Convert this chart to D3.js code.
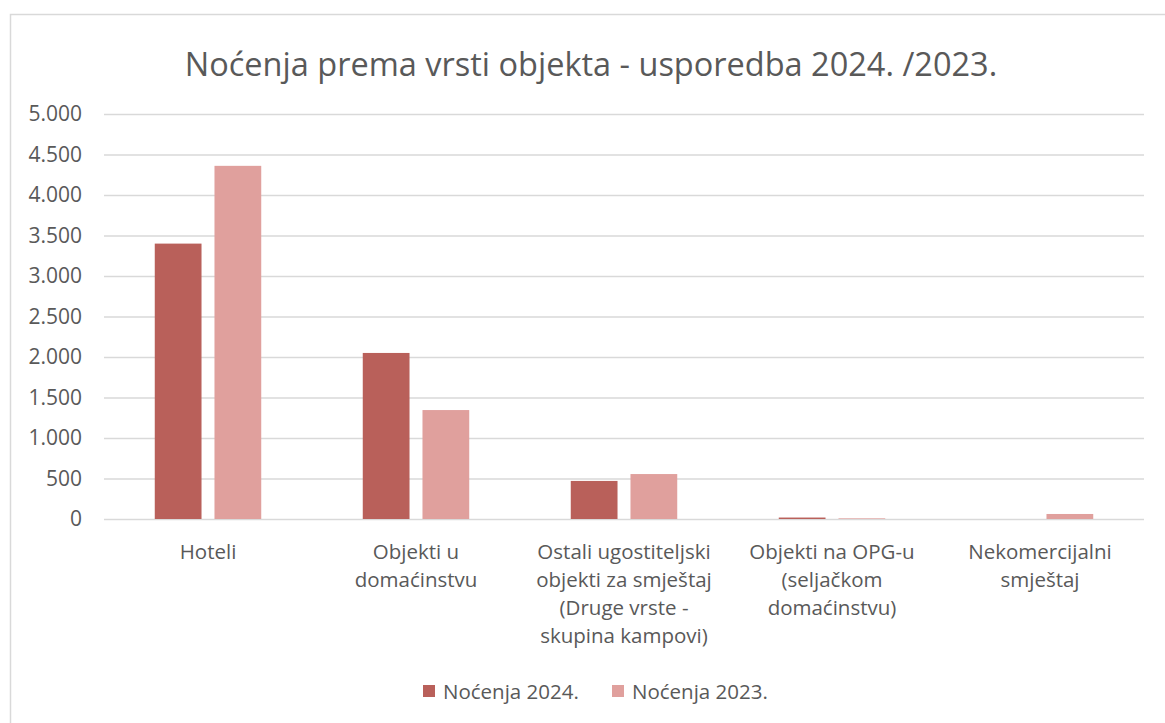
<!DOCTYPE html>
<html>
<head>
<meta charset="utf-8">
<script src="https://d3js.org/d3.v7.min.js"></script>
<style>
	body {
		margin: 0;
		background-color: #fff;
		font-family: "Open Sans", sans-serif;
	}
</style>
</head>
<body>
<div id="chart"></div>
<script>
	// data
	var categories = ["Hoteli", "Objekti u domaćinstvu", "Ostali ugostiteljski objekti za smještaj (Druge vrste - skupina kampovi)", "Objekti na OPG-u (seljačkom domaćinstvu)", "Nekomercijalni smještaj"];
	var categoryLines = [
		["Hoteli"],
		["Objekti u", "domaćinstvu"],
		["Ostali ugostiteljski", "objekti za smještaj", "(Druge vrste -", "skupina kampovi)"],
		["Objekti na OPG-u", "(seljačkom", "domaćinstvu)"],
		["Nekomercijalni", "smještaj"]
	];
	var series = ["Noćenja 2024.", "Noćenja 2023."];
	var values2024 = [3400, 2050, 470, 18, 0];
	var values2023 = [4360, 1345, 555, 8, 62];
	var yTicks = [0, 500, 1000, 1500, 2000, 2500, 3000, 3500, 4000, 4500, 5000];
	var colors = ["#b9605a", "#e0a09d"];

	var width = 1165, height = 723;
	var pLeft = 104, pRight = 1144, pTop = 114, pBottom = 519;

	var svg = d3.select("#chart").append("svg")
		.attr("width", width)
		.attr("height", height)
		.style("display", "block");

	// frame
	svg.append("rect")
		.attr("x", 10.5).attr("y", 14.5)
		.attr("width", width + 20).attr("height", height + 20)
		.attr("fill", "#fff")
		.attr("stroke", "#d9d9d9")
		.attr("stroke-width", 1.5);

	svg.append("text")
		.attr("x", 591).attr("y", 76)
		.attr("text-anchor", "middle")
		.attr("font-size", 32.5)
		.attr("fill", "#595959")
		.text("Noćenja prema vrsti objekta - usporedba 2024. /2023.");

	var y = d3.scaleLinear().domain([0, 5000]).range([pBottom, pTop]);
	var x0 = d3.scaleBand().domain(categories).range([pLeft, pRight]);
	var x1 = d3.scaleBand().domain(series).range([0, x0.bandwidth()])
		.paddingInner(0.217).paddingOuter(0.85);

	var fmt = function(d){ return d3.format(",")(d).replace(/,/g, "."); };

	// grid + y labels
	var yAxis = svg.append("g")
		.attr("transform", "translate(" + pLeft + ",0)")
		.call(d3.axisLeft(y).tickValues(yTicks).tickFormat(fmt).tickSize(-(pRight - pLeft)).tickPadding(22));
	yAxis.select(".domain").remove();
	yAxis.selectAll(".tick line").attr("stroke", "#d9d9d9").attr("stroke-width", 1.3);
	yAxis.selectAll(".tick text")
		.attr("font-family", "'Open Sans', sans-serif")
		.attr("font-size", 21)
		.attr("fill", "#595959");

	var rows = categories.map(function(c, i){
		return {cat: c, vals: [values2024[i], values2023[i]]};
	});

	var groups = svg.selectAll("g.cat")
		.data(rows)
		.enter()
		.append("g")
		.attr("class", "cat")
		.attr("transform", function(d){ return "translate(" + x0(d.cat) + ",0)"; });

	groups.selectAll("rect")
		.data(function(d){ return d.vals.map(function(v, j){ return {s: series[j], v: v, j: j}; }); })
		.enter()
		.append("rect")
		.attr("x", function(d){ return x1(d.s); })
		.attr("y", function(d){ return y(d.v); })
		.attr("width", x1.bandwidth())
		.attr("height", function(d){ return pBottom - y(d.v); })
		.attr("fill", function(d){ return colors[d.j]; });

	// category labels
	groups.each(function(d, i){
		var t = d3.select(this).append("text")
			.attr("text-anchor", "middle")
			.attr("font-size", 20.5)
			.attr("fill", "#595959");
		categoryLines[i].forEach(function(line, k){
			t.append("tspan")
				.attr("x", x0.bandwidth() / 2)
				.attr("y", 559 + k * 28)
				.text(line);
		});
	});

	// legend
	var legendX = [423, 612];
	var legend = svg.selectAll("g.leg")
		.data(series)
		.enter()
		.append("g")
		.attr("class", "leg")
		.attr("transform", function(d, i){ return "translate(" + legendX[i] + ",685)"; });
	legend.append("rect")
		.attr("width", 12).attr("height", 12)
		.attr("fill", function(d, i){ return colors[i]; });
	legend.append("text")
		.attr("x", 20).attr("y", 13.5)
		.attr("font-size", 20.5)
		.attr("fill", "#595959")
		.text(function(d){ return d; });
</script>
</body>
</html>
